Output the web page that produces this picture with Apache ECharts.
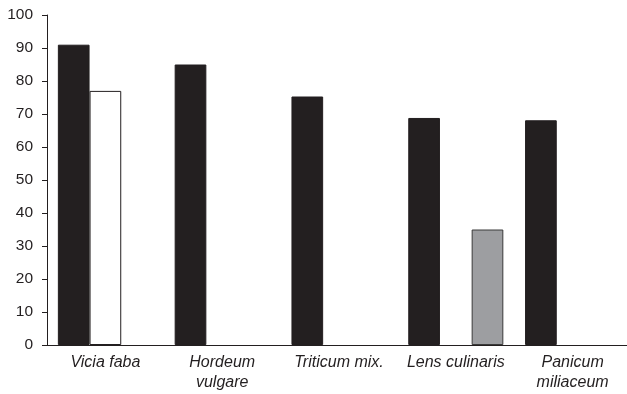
<!DOCTYPE html>
<html>
<head>
<meta charset="utf-8">
<script src="https://cdn.jsdelivr.net/npm/echarts@6/dist/echarts.min.js"></script>
<style>
  html, body { margin: 0; padding: 0; background: #fff; overflow: hidden; width: 627px; height: 394px; }
  /* the drawing surface is a bit wider than the page; the plot runs past the right edge */
  #chart { width: 640px; height: 394px; }
</style>
</head>
<body>
<div id="chart"></div>
<script>
// Crop taxa along the x axis
const categories = ['Vicia faba', 'Hordeum\nvulgare', 'Triticum mix.', 'Lens culinaris', 'Panicum\nmiliaceum'];
// Three value groups per taxon ('-' = no bar)
const seriesBlack = [91, 85, 75.3, 68.8, 68.1];
const seriesWhite = [77, '-', '-', '-', '-'];
const seriesGray  = ['-', '-', '-', 35, '-'];
// Y axis range
const yMin = 0, yMax = 100, yStep = 10;

const ink = '#231f20';
const font = 'Liberation Sans, Arial, sans-serif';

const chart = echarts.init(document.getElementById('chart'), null, { renderer: 'canvas' });

function barSeries(data, fill, border) {
  return {
    type: 'bar',
    data: data,
    barGap: '0%',
    barCategoryGap: '18.6%',
    itemStyle: { color: fill, borderColor: border, borderWidth: 1 },
    emphasis: { disabled: true },
    animation: false
  };
}

chart.setOption({
  animation: false,
  grid: { left: 47, width: 584, top: 15, height: 330, containLabel: false },
  xAxis: {
    type: 'category',
    data: categories,
    axisLine: { show: true, lineStyle: { color: ink, width: 1 } },
    axisTick: { show: false },
    axisLabel: {
      color: ink,
      fontFamily: font,
      fontStyle: 'italic',
      fontSize: 16,
      lineHeight: 20,
      margin: 8,
      interval: 0,
      align: 'center'
    },
    splitLine: { show: false }
  },
  yAxis: {
    type: 'value',
    min: yMin,
    max: yMax,
    interval: yStep,
    axisLine: { show: true, lineStyle: { color: ink, width: 1 } },
    axisTick: { show: true, inside: false, length: 5, lineStyle: { color: ink, width: 1 } },
    axisLabel: { color: ink, fontFamily: font, fontSize: 15.5, margin: 14 },
    splitLine: { show: false }
  },
  series: [
    barSeries(seriesBlack, ink, ink),
    barSeries(seriesWhite, '#ffffff', ink),
    barSeries(seriesGray, '#9d9ea1', '#3a3a3a')
  ]
});
</script>
</body>
</html>
